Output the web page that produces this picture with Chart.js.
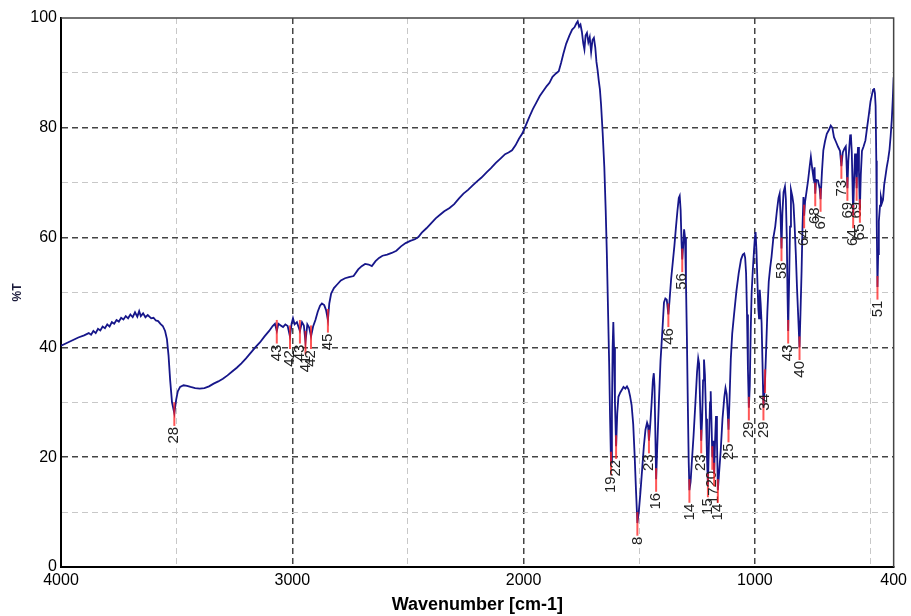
<!DOCTYPE html>
<html lang="en">
  <head>
    <meta charset="UTF-8" />
    <title>IR spectrum</title>
    <style>
      html, body { margin: 0; padding: 0; background: #fff; overflow: hidden; }
      canvas { display: block; }
    </style>
  </head>
  <body>
    <canvas id="c" width="911" height="616"></canvas>
    <script src="https://cdn.jsdelivr.net/npm/chart.js"></script>
    <script>
      // spectrum, high to low wavenumber
      const wavenumber = [
        4000, 3975, 3950, 3925, 3900, 3880, 3870, 3860, 3850, 3840, 3830, 3820, 3810, 3800, 3790, 3780, 3770, 3760, 3750, 3740,
        3730, 3720, 3710, 3700, 3690, 3680, 3670, 3662, 3655, 3645, 3635, 3625, 3610, 3600, 3590, 3580, 3570, 3560, 3550, 3542,
        3535, 3528, 3520, 3510, 3502, 3495, 3485, 3470, 3455, 3440, 3420, 3400, 3380, 3360, 3340, 3320, 3300, 3280, 3260, 3240,
        3220, 3200, 3180, 3160, 3140, 3120, 3100, 3085, 3075, 3067, 3060, 3050, 3040, 3030, 3020, 3010, 3003, 2997, 2990, 2980,
        2967, 2958, 2950, 2943, 2935, 2927, 2919, 2910, 2900, 2890, 2880, 2872, 2862, 2854, 2846, 2840, 2832, 2820, 2805, 2790,
        2772, 2755, 2735, 2715, 2700, 2685, 2670, 2656, 2640, 2625, 2610, 2590, 2570, 2550, 2530, 2510, 2490, 2470, 2455, 2440,
        2420, 2400, 2380, 2360, 2343, 2320, 2300, 2280, 2260, 2240, 2220, 2200, 2183, 2160, 2140, 2120, 2100, 2080, 2065, 2050,
        2035, 2020, 2005, 1990, 1975, 1960, 1945, 1930, 1915, 1900, 1888, 1875, 1860, 1848, 1838, 1828, 1816, 1802, 1790, 1780,
        1772, 1766, 1760, 1754, 1748, 1742, 1737, 1732, 1726, 1720, 1714, 1708, 1702, 1696, 1690, 1685, 1680, 1675, 1670, 1665,
        1658, 1651, 1645, 1640, 1635, 1630, 1626, 1622, 1618, 1615, 1612, 1609, 1605, 1600, 1595, 1590, 1582, 1575, 1568, 1560,
        1553, 1546, 1540, 1533, 1526, 1520, 1514, 1508, 1502, 1495, 1487, 1480, 1473, 1466, 1462, 1458, 1453, 1447, 1441, 1437,
        1434, 1431, 1427, 1422, 1415, 1408, 1400, 1393, 1387, 1381, 1374, 1369, 1362, 1355, 1348, 1341, 1335, 1329, 1325, 1321,
        1317, 1314, 1310, 1306, 1302, 1298, 1294, 1290, 1286, 1283, 1278, 1272, 1265, 1257, 1250, 1245, 1241, 1237, 1232, 1228,
        1224, 1220, 1216, 1211, 1207, 1203, 1199, 1194, 1191, 1188, 1184, 1180, 1176, 1172, 1168, 1164, 1160, 1155, 1148, 1140,
        1132, 1127, 1122, 1118, 1114, 1110, 1104, 1098, 1090, 1080, 1070, 1060, 1052, 1046, 1042, 1038, 1034, 1030, 1026, 1022,
        1018, 1014, 1009, 1004, 1000, 997, 993, 989, 985, 982, 979, 975, 971, 967, 963, 959, 956, 951, 946, 940,
        934, 928, 920, 912, 905, 898, 893, 889, 885, 881, 876, 870, 866, 862, 859, 856, 852, 848, 844, 838,
        833, 828, 823, 818, 813, 807, 803, 798, 794, 790, 787, 783, 777, 770, 763, 758, 752, 747, 742, 739,
        735, 727, 720, 716, 710, 704, 697, 689, 680, 672, 665, 658, 650, 640, 632, 626, 620, 613, 607, 604,
        600, 596, 592, 588, 585, 581, 578, 575, 571, 567, 563, 560, 557, 554, 550, 546, 542, 537, 530, 522,
        515, 507, 500, 494, 489, 485, 481, 478, 475, 473, 470, 467, 464, 459, 455, 450, 446, 441, 436, 430,
        424, 418, 413, 408, 404, 400
      ];
      const transmittance = [
        40.3, 40.8, 41.3, 41.8, 42.2, 42.6, 42.3, 43.0, 42.6, 43.4, 43.1, 43.8, 43.5, 44.2, 43.8, 44.6, 44.3, 45.0, 44.7, 45.4,
        45.1, 45.7, 45.3, 46.0, 45.5, 46.4, 45.6, 46.6, 45.7, 46.2, 45.5, 45.9, 45.3, 45.4, 44.9, 44.8, 44.3, 43.9, 43.0, 41.5,
        38.5, 34.0, 30.0, 28.0, 30.5, 32.0, 32.8, 33.1, 33.0, 32.8, 32.6, 32.5, 32.6, 32.9, 33.4, 33.8, 34.3, 34.9, 35.6, 36.3,
        37.1, 38.0, 39.0, 40.0, 40.9, 42.0, 43.0, 43.9, 44.3, 43.0, 44.3, 44.0, 43.7, 44.2, 43.9, 42.0, 44.3, 45.3, 44.2, 44.6,
        43.0, 44.6, 44.0, 41.0, 44.2, 43.6, 42.0, 43.8, 45.0, 46.5, 47.6, 48.0, 47.7, 46.8, 45.0, 48.0, 49.8, 50.8, 51.5, 52.2,
        52.6, 52.8, 53.0, 54.2, 54.8, 55.2, 55.1, 54.8, 55.7, 56.3, 56.7, 56.9, 57.2, 57.6, 58.4, 59.0, 59.4, 59.7, 60.1, 60.9,
        61.7, 62.6, 63.5, 64.2, 64.8, 65.4, 66.1, 67.1, 68.0, 68.7, 69.5, 70.3, 70.9, 71.9, 72.7, 73.6, 74.4, 75.2, 75.5, 75.9,
        76.8, 78.0, 79.0, 80.5, 82.0, 83.4, 84.6, 85.8, 86.7, 87.6, 88.2, 89.3, 89.9, 90.3, 91.8, 93.5, 95.3, 96.8, 97.9, 98.3,
        99.0, 99.4, 98.4, 98.8, 97.5, 95.4, 94.3, 96.8, 97.3, 95.6, 96.5, 93.8, 96.0, 96.4, 94.6, 92.0, 90.5, 88.6, 87.0, 84.2,
        79.0, 72.9, 65.0, 57.0, 47.0, 37.0, 27.0, 19.0, 28.0, 40.0, 44.6, 40.0, 30.0, 22.0, 28.0, 31.0, 31.8, 32.3, 32.8, 32.5,
        32.9, 32.3, 31.2, 29.5, 26.0, 20.5, 14.0, 8.0, 10.0, 13.5, 18.0, 22.0, 25.0, 26.3, 25.8, 23.0, 25.5, 29.5, 34.0, 35.3,
        33.0, 26.0, 16.0, 22.0, 30.0, 37.5, 43.0, 48.2, 48.9, 48.7, 46.0, 48.5, 52.5, 55.5, 58.5, 62.0, 64.8, 67.2, 67.6, 65.0,
        59.0, 56.0, 58.5, 61.5, 60.0, 52.0, 42.0, 30.0, 19.0, 14.0, 15.5, 19.5, 24.0, 30.0, 35.5, 38.0, 37.0, 30.0, 23.0, 27.0,
        34.0, 37.8, 35.0, 27.0, 20.0, 15.0, 22.0, 30.0, 32.0, 27.0, 20.0, 23.0, 17.0, 23.0, 27.5, 23.0, 14.0, 17.0, 21.0, 27.0,
        31.0, 32.6, 31.5, 28.5, 25.0, 30.0, 38.0, 42.5, 46.0, 50.2, 53.5, 56.0, 56.9, 57.1, 56.3, 53.5, 46.0, 36.0, 29.0, 33.0,
        43.0, 50.0, 54.0, 57.5, 60.0, 61.0, 57.5, 52.0, 47.0, 45.3, 50.5, 48.0, 44.5, 37.0, 29.0, 31.5, 34.0, 40.0, 46.5, 52.0,
        54.5, 56.5, 60.0, 62.0, 64.8, 67.2, 68.0, 64.0, 58.0, 64.5, 68.3, 69.3, 67.0, 60.0, 50.0, 43.0, 52.0, 62.0, 68.7, 67.5,
        66.0, 62.0, 57.0, 51.0, 46.0, 40.0, 46.0, 54.0, 62.0, 67.4, 64.0, 66.5, 68.3, 70.4, 73.0, 74.7, 72.5, 71.0, 72.8, 68.0,
        70.5, 70.4, 69.0, 67.0, 72.0, 75.9, 77.5, 78.9, 79.6, 80.4, 80.0, 78.3, 77.5, 76.5, 75.8, 73.0, 75.5, 76.2, 76.6, 74.0,
        69.0, 74.0, 76.3, 78.6, 78.8, 75.5, 70.0, 64.0, 70.5, 75.3, 72.5, 69.0, 74.0, 76.5, 72.0, 65.0, 71.5, 75.8, 76.6, 77.7,
        80.0, 82.5, 84.8, 86.0, 86.9, 87.2, 86.3, 84.0, 74.0, 62.0, 51.0, 57.0, 63.0, 65.8, 67.4, 66.4, 66.9, 69.6, 71.0, 72.8,
        74.2, 76.0, 78.5, 81.5, 85.0, 89.2
      ];

      // picked peaks: position, depth and printed label
      const peakWn = [3510, 3067, 3010, 2967, 2943, 2919, 2846, 1622, 1600, 1508, 1458, 1427, 1374, 1314, 1283, 1232, 1203, 1184,
        1176, 1160, 1114, 1026, 963, 956, 885, 856, 807, 787, 739, 716, 626, 600, 575, 560, 546, 470];
      const peakVal = [28, 43, 42, 43, 41, 42, 45, 19, 22, 8, 23, 16, 46, 56, 14, 23, 15, 20,
        17, 14, 25, 29, 29, 34, 58, 43, 40, 64, 68, 67, 73, 69, 64, 69, 65, 51];
      const peakText = peakVal.map(String);

      const xTickLabels = [4000, 3000, 2000, 1000, 400];
      const xGridValues = [4000, 3500, 3000, 2500, 2000, 1500, 1000, 500, 400];
      const yTickLabels = [0, 20, 40, 60, 80, 100];

      const FONT = "'Liberation Sans', Arial, sans-serif";

      const peakMarks = {
        id: 'peakMarks',
        afterDatasetsDraw(chart) {
          const ctx = chart.ctx;
          const xs = chart.scales.x, ys = chart.scales.y;
          ctx.save();
          for (let i = 0; i < peakWn.length; i++) {
            const px = xs.getPixelForValue(peakWn[i]);
            const top = ys.getPixelForValue(peakVal[i] + 2);
            const bot = ys.getPixelForValue(peakVal[i] - 2.3);
            ctx.strokeStyle = 'rgba(255,30,30,0.75)';
            ctx.lineWidth = 2;
            ctx.beginPath();
            ctx.moveTo(px, top);
            ctx.lineTo(px, bot);
            ctx.stroke();
            ctx.save();
            ctx.translate(px, bot + 1);
            ctx.rotate(-Math.PI / 2);
            ctx.font = '15px ' + FONT;
            ctx.textAlign = 'right';
            ctx.textBaseline = 'middle';
            ctx.fillStyle = '#222';
            ctx.fillText(peakText[i], 0, 0);
            ctx.restore();
          }
          ctx.restore();
        },
        afterDraw(chart) {
          // top and right frame
          const a = chart.chartArea, ctx = chart.ctx;
          ctx.save();
          ctx.strokeStyle = '#444';
          ctx.lineWidth = 1.5;
          ctx.beginPath();
          ctx.moveTo(a.left, a.top);
          ctx.lineTo(a.right, a.top);
          ctx.lineTo(a.right, a.bottom);
          ctx.stroke();
          ctx.restore();
        }
      };

      new Chart(document.getElementById('c'), {
        type: 'line',
        data: {
          datasets: [{
            data: wavenumber.map((w, i) => ({ x: w, y: transmittance[i] })),
            borderColor: '#16168a',
            borderWidth: 1.8,
            pointRadius: 0,
            tension: 0,
            fill: false,
          }],
        },
        options: {
          responsive: false,
          animation: false,
          devicePixelRatio: 1,
          layout: { padding: { top: 18, right: 14, left: 0, bottom: 0 } },
          plugins: { legend: { display: false }, tooltip: { enabled: false } },
          scales: {
            x: {
              type: 'linear',
              reverse: true,
              min: 400,
              max: 4000,
              afterBuildTicks: (s) => { s.ticks = xGridValues.map(v => ({ value: v })); },
              afterFit: (s) => { s.height = 49; },
              ticks: {
                autoSkip: false,
                maxRotation: 0,
                padding: 4,
                color: '#000',
                font: { family: FONT, size: 16 },
                callback: (v) => xTickLabels.includes(v) ? String(v) : '',
              },
              grid: {
                drawTicks: false,
                color: (c) => {
                  const v = c.tick && c.tick.value;
                  if (v === 4000 || v === 400) return 'rgba(0,0,0,0)';
                  return v % 1000 === 0 ? '#444' : '#c8c8c8';
                },
                lineWidth: (c) => (c.tick && c.tick.value % 1000 === 0) ? 1.5 : 1,
              },
              border: { color: '#000', width: 2, dash: [6, 4] },
              title: {
                display: true,
                text: 'Wavenumber [cm-1]',
                color: '#000',
                font: { family: FONT, size: 18, weight: 'bold' },
                padding: { top: 0, bottom: 0 },
              },
            },
            y: {
              min: 0,
              max: 100,
              afterFit: (s) => { s.width = 61; },
              ticks: {
                stepSize: 10,
                padding: 4,
                color: '#000',
                font: { family: FONT, size: 16 },
                callback: (v) => yTickLabels.includes(v) ? String(v) : '',
              },
              grid: {
                drawTicks: false,
                color: (c) => {
                  const v = c.tick && c.tick.value;
                  if (v === 0 || v === 100) return 'rgba(0,0,0,0)';
                  return v % 20 === 0 ? '#444' : '#c8c8c8';
                },
                lineWidth: (c) => (c.tick && c.tick.value % 20 === 0) ? 1.5 : 1,
              },
              border: { color: '#000', width: 2, dash: [6, 4] },
              title: {
                display: true,
                text: '%T',
                color: '#1a1a3a',
                font: { family: FONT, size: 12, weight: 'bold' },
                padding: { top: 10, bottom: 8 },
              },
            },
          },
        },
        plugins: [peakMarks],
      });
    </script>
  </body>
</html>
